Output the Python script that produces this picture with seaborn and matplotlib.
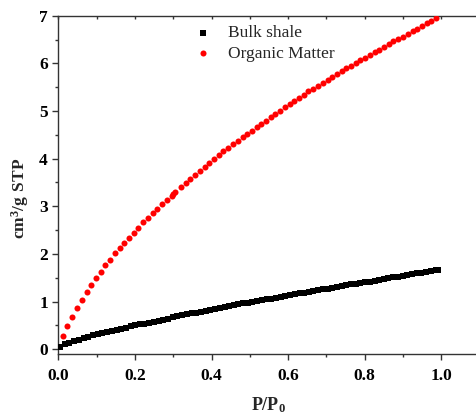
import matplotlib
matplotlib.use("Agg")
import matplotlib.pyplot as plt
import seaborn as sns
import pandas as pd
from matplotlib.ticker import MultipleLocator

# ---------------- data ----------------
bulk_x = [0.005, 0.017, 0.029, 0.042, 0.054, 0.066, 0.078, 0.091, 0.103, 0.115,
          0.127, 0.140, 0.152, 0.164, 0.176, 0.189, 0.201, 0.213, 0.225, 0.238,
          0.250, 0.262, 0.274, 0.287, 0.299, 0.311, 0.323, 0.336, 0.348, 0.360,
          0.372, 0.385, 0.397, 0.409, 0.421, 0.434, 0.446, 0.458, 0.470, 0.483,
          0.495, 0.507, 0.519, 0.532, 0.544, 0.556, 0.568, 0.581, 0.593, 0.605,
          0.617, 0.630, 0.642, 0.654, 0.666, 0.679, 0.691, 0.703, 0.715, 0.728,
          0.740, 0.752, 0.764, 0.777, 0.789, 0.801, 0.813, 0.826, 0.838, 0.850,
          0.862, 0.875, 0.887, 0.899, 0.911, 0.924, 0.936, 0.948, 0.960, 0.973,
          0.985, 0.992]
bulk_y = [0.05, 0.10, 0.14, 0.17, 0.20, 0.23, 0.26, 0.29, 0.31, 0.34,
          0.36, 0.38, 0.41, 0.43, 0.45, 0.48, 0.50, 0.52, 0.54, 0.56,
          0.58, 0.60, 0.62, 0.64, 0.67, 0.69, 0.71, 0.73, 0.75, 0.76,
          0.78, 0.80, 0.82, 0.84, 0.86, 0.88, 0.90, 0.92, 0.94, 0.96,
          0.98, 0.99, 1.01, 1.03, 1.05, 1.06, 1.08, 1.10, 1.12, 1.13,
          1.15, 1.17, 1.19, 1.20, 1.22, 1.24, 1.26, 1.27, 1.29, 1.31,
          1.32, 1.34, 1.36, 1.37, 1.39, 1.41, 1.42, 1.44, 1.46, 1.47,
          1.49, 1.51, 1.52, 1.54, 1.56, 1.57, 1.59, 1.61, 1.62, 1.64,
          1.66, 1.67]

om_x = [0.012, 0.024, 0.037, 0.049, 0.061, 0.074, 0.086, 0.098, 0.111, 0.123,
        0.135, 0.148, 0.160, 0.172, 0.185, 0.197, 0.209, 0.222, 0.234, 0.246,
        0.259, 0.271, 0.283, 0.296, 0.300, 0.304, 0.320, 0.333, 0.345, 0.357,
        0.370, 0.382, 0.394, 0.407, 0.419, 0.431, 0.444, 0.456, 0.468, 0.481,
        0.493, 0.505, 0.518, 0.530, 0.542, 0.555, 0.567, 0.579, 0.592, 0.604,
        0.616, 0.629, 0.641, 0.653, 0.666, 0.678, 0.690, 0.703, 0.715, 0.727,
        0.740, 0.752, 0.764, 0.777, 0.789, 0.801, 0.814, 0.826, 0.838, 0.851,
        0.863, 0.875, 0.888, 0.900, 0.912, 0.925, 0.937, 0.949, 0.962, 0.974,
        0.986]
om_y = [0.28, 0.48, 0.67, 0.86, 1.04, 1.20, 1.35, 1.49, 1.63, 1.76,
        1.88, 2.01, 2.12, 2.22, 2.34, 2.44, 2.54, 2.67, 2.76, 2.85,
        2.95, 3.05, 3.14, 3.22, 3.25, 3.29, 3.40, 3.49, 3.57, 3.65,
        3.74, 3.82, 3.90, 3.99, 4.07, 4.15, 4.23, 4.30, 4.38, 4.45,
        4.52, 4.59, 4.66, 4.73, 4.80, 4.87, 4.94, 5.01, 5.08, 5.14,
        5.21, 5.28, 5.34, 5.41, 5.47, 5.53, 5.59, 5.66, 5.72, 5.78,
        5.84, 5.90, 5.95, 6.01, 6.07, 6.12, 6.18, 6.24, 6.29, 6.35,
        6.40, 6.46, 6.51, 6.56, 6.62, 6.67, 6.73, 6.78, 6.84, 6.89,
        6.95]

x_ticks = [0.0, 0.2, 0.4, 0.6, 0.8, 1.0]
x_tick_labels = ["0.0", "0.2", "0.4", "0.6", "0.8", "1.0"]
y_ticks = [0, 1, 2, 3, 4, 5, 6, 7]
y_tick_labels = ["0", "1", "2", "3", "4", "5", "6", "7"]

# ---------------- style ----------------
sns.set_theme(style="ticks")
plt.rcParams["font.family"] = ["Liberation Serif", "DejaVu Serif"]
plt.rcParams["mathtext.fontset"] = "custom"
plt.rcParams["mathtext.rm"] = "Liberation Serif"
plt.rcParams["mathtext.bf"] = "Liberation Serif:bold"

fig = plt.figure(figsize=(4.76, 4.18), dpi=100)
ax = fig.add_axes([58.3 / 476, (418 - 354) / 418, 421.3 / 476, 338.3 / 418])

df_bulk = pd.DataFrame({"x": bulk_x, "y": bulk_y})
df_om = pd.DataFrame({"x": om_x, "y": om_y})

sns.scatterplot(data=df_bulk, x="x", y="y", ax=ax, marker="s", color="black",
                s=14, linewidth=0, label="Bulk shale", zorder=3)
sns.scatterplot(data=df_om, x="x", y="y", ax=ax, marker="o", color="#ff0000",
                s=19, linewidth=0, label="Organic Matter", zorder=3)

ax.set_xlim(0, 1.1)
ax.set_ylim(-0.1, 7)

ax.set_xticks(x_ticks)
ax.set_xticklabels(x_tick_labels, fontweight="bold", fontsize=12.5)
ax.set_yticks(y_ticks)
ax.set_yticklabels(y_tick_labels, fontweight="bold", fontsize=12.5)
ax.xaxis.set_minor_locator(MultipleLocator(0.1))
ax.yaxis.set_minor_locator(MultipleLocator(0.5))

spine_c = "#333333"
for sp in ax.spines.values():
    sp.set_linewidth(1.0)
    sp.set_color(spine_c)
    sp.set_visible(True)

ax.tick_params(axis="both", which="major", direction="out", length=4.5, width=1.0,
               color=spine_c, pad=3, labelcolor="black")
ax.tick_params(axis="x", which="major", pad=5.5)
ax.tick_params(axis="both", which="minor", direction="out", length=2.5, width=1.0,
               color=spine_c)
ax.tick_params(axis="x", which="both", top=True)
# top ticks point inward
for t in ax.xaxis.get_major_ticks() + ax.xaxis.get_minor_ticks():
    t.tick2line.set_marker(3)  # TICKDOWN
    t.tick2line.set_markersize(2.5)

ax.set_xlabel(r"$\mathbf{P/P_0}$", fontsize=13)
ax.set_ylabel(r"$\mathbf{cm^3/g\ STP}$", fontsize=12.5)
ax.xaxis.set_label_coords(0.5, -(405 - 354) / 338.3, transform=ax.transAxes)
ax.xaxis.label.set_va("center")
ax.yaxis.set_label_coords(-(58.3 - 20) / 421.3, (354 - 198) / 338.3, transform=ax.transAxes)
ax.yaxis.label.set_va("center")

leg = ax.legend(loc="upper left", bbox_to_anchor=(186 / 476, 1 - 25 / 418),
                bbox_transform=fig.transFigure, frameon=False, fontsize=12.5,
                borderaxespad=0, borderpad=0, handletextpad=0.4,
                labelspacing=0.25, markerscale=1.0)

fig.savefig("out.png", dpi=100)
